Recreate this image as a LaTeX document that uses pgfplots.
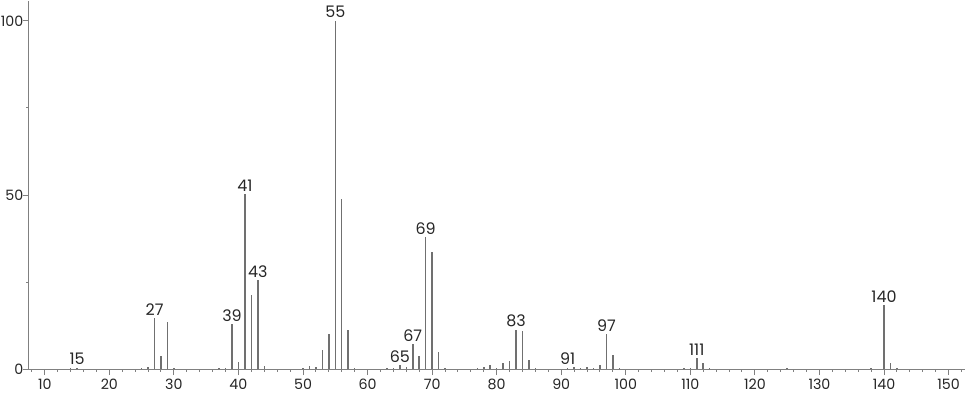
\documentclass[border=0pt]{standalone}
\usepackage{pgfplots}
\pgfplotsset{compat=1.18}
\usepackage{fontspec}
\setmainfont{Poppins}
\definecolor{peak}{HTML}{707070}
\definecolor{axc}{HTML}{808080}
\begin{document}
\begin{tikzpicture}
\begin{axis}[
  scale only axis, width=559pt, height=220pt,
  xmin=7.5, xmax=152.6, ymin=0, ymax=105.8,
  axis x line*=bottom, axis y line*=left,
  axis line style={axc, line width=0.8pt, -},
  xtick={10,20,...,150}, minor xtick={8,12,14,16,18,22,24,26,28,32,34,36,38,42,44,46,48,52,54,56,58,62,64,66,68,72,74,76,78,82,84,86,88,92,94,96,98,102,104,106,108,112,114,116,118,122,124,126,128,132,134,136,138,142,144,146,148,152},
  ytick={0,50,100}, minor ytick={25,75},
  tick align=outside,
  major tick length=3.5pt, minor tick length=1.5pt,
  every tick/.style={axc, line width=0.6pt},
  tick label style={font=\fontsize{8.5}{9}\selectfont, text=black!85},
  xticklabel style={yshift=1pt},
  yticklabel style={xshift=1pt, inner sep=0.5pt},
  /pgf/number format/assume math mode=true,
  clip=false,
]
\addplot[ycomb, peak, line width=0.9pt, mark=none] coordinates {
(14,0.3)(15,0.5)(25,0.3)(26,0.8)(27,14.7)(28,3.7)(29,13.6)(30,0.3)
(37,0.3)(38,0.5)(39,13.0)(40,2.0)(41,50.2)(42,21.4)(43,25.6)(44,0.9)
(50,0.3)(51,0.9)(52,0.8)(53,5.5)(54,10.1)(55,100)(56,48.8)(57,11.4)(58,0.5)
(63,0.3)(64,0.5)(65,1.2)(66,0.7)(67,7.2)(68,3.7)(69,38.0)(70,33.7)(71,5.1)(72,0.5)
(77,0.3)(78,0.6)(79,1.2)(80,0.5)(81,1.8)(82,2.3)(83,11.4)(84,11.1)(85,2.7)(86,0.5)
(91,0.5)(92,0.6)(93,0.4)(94,0.7)(95,0.5)(96,1.1)(97,10.0)(98,4.2)(99,0.5)
(109,0.3)(110,0.4)(111,3.2)(112,1.7)(113,0.4)
(125,0.3)(138,0.4)(140,18.4)(141,1.8)(142,0.4)
};
\addplot[only marks, mark=none, point meta=x,
  nodes near coords,
  every node near coord/.append style={anchor=south, font=\fontsize{9.5}{10}\selectfont, text=black!85, inner sep=1pt, yshift=0.5pt}]
coordinates {
(15,0.5)(27,14.7)(39,13.0)(41,50.2)(43,25.6)(55,100)(65,1.2)(67,7.2)(69,38.0)
(83,11.4)(91,0.5)(97,10.0)(111,3.2)(140,18.4)
};
\end{axis}
\end{tikzpicture}
\end{document}
